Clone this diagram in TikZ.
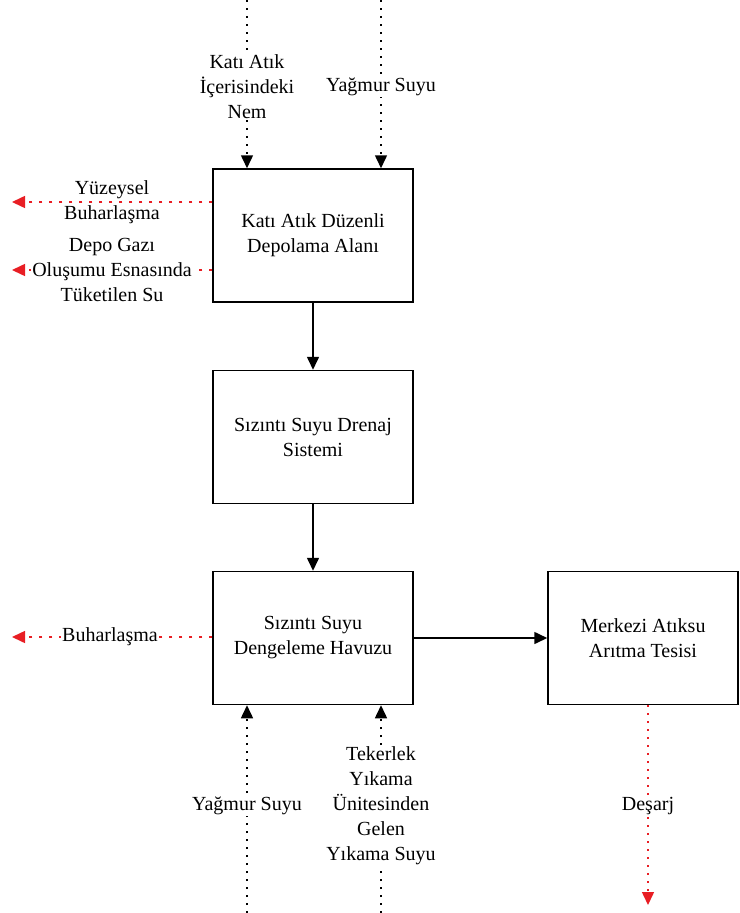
\documentclass[tikz,border=0pt]{standalone}
\usepackage{fontspec}
\setmainfont{Liberation Serif}
\usetikzlibrary{arrows.meta,calc}
\definecolor{flowred}{RGB}{232,30,36}
\tikzset{
  box/.style={draw, line width=1.5pt, minimum width=200pt, minimum height=133pt, align=center, inner sep=0pt, font=\fontsize{20}{25}\selectfont},
  solidflow/.style={line width=1.6pt, -{Triangle[length=13pt,width=12pt]}},
  inflow/.style={line width=1.5pt, dash pattern=on 2pt off 6pt, -{Triangle[length=13pt,width=12pt]}},
  outflow/.style={flowred, line width=1.5pt, dash pattern=on 3.5pt off 6.5pt, -{Triangle[length=13pt,width=12pt]}},
  lbl/.style={fill=white, align=center, inner sep=1pt, font=\fontsize{20}{25}\selectfont},
  clearlbl/.style={lbl, fill=none}
}
\begin{document}
\begin{tikzpicture}[x=1pt,y=-1pt]
\useasboundingbox (0,0) rectangle (739,913);
% boxes
\node[box] (b1) at (313,235.5) {Katı Atık Düzenli\\Depolama Alanı};
\node[box] (b2) at (313,437) {Sızıntı Suyu Drenaj\\Sistemi};
\node[box] (b3) at (313,638) {Sızıntı Suyu\\Dengeleme Havuzu};
\node[box, minimum width=190pt] (b4) at (643,638) {Merkezi Atıksu\\Arıtma Tesisi};
% main flows
\draw[solidflow] (b1) -- (b2);
\draw[solidflow] (b2) -- (b3);
\draw[solidflow] (b3) -- (b4);
% top inputs
\coordinate (t1) at (247,0);
\coordinate (t2) at (381,0);
\draw[inflow] (t1) -- (t1 |- b1.north);
\draw[inflow] (t2) -- (t2 |- b1.north);
\node[lbl] (lt1) at (247,87) {Katı Atık\\İçerisindeki\\Nem};
\node[lbl] (lt2) at (381,87) {Yağmur Suyu};
% left outputs of b1
\coordinate (o1) at (12,202);
\coordinate (o2) at (12,270);
\draw[outflow] (b1.west |- o1) -- (o1);
\draw[outflow] (b1.west |- o2) -- (o2);
\node[clearlbl] (lo1) at (112,202.5) {Yüzeysel\\Buharlaşma};
\node[lbl] (lo2) at (112,270) {Depo Gazı\\Oluşumu Esnasında\\Tüketilen Su};
% left output of b3
\coordinate (o3) at (12,637);
\draw[outflow] (b3.west |- o3) -- (o3);
\node[lbl] (lo3) at (110,637) {Buharlaşma};
% bottom inputs
\coordinate (u1) at (247,913);
\coordinate (u2) at (381,913);
\draw[inflow] (u1) -- (u1 |- b3.south);
\draw[inflow] (u2) -- (u2 |- b3.south);
\node[lbl] (lu1) at (247,806) {Yağmur Suyu};
\node[lbl] (lu2) at (381,806) {Tekerlek\\Yıkama\\Ünitesinden\\Gelen\\Yıkama Suyu};
% discharge
\coordinate (d0) at (648,705);
\coordinate (d1) at (648,905);
\draw[outflow, dash pattern=on 2pt off 6pt] (d0) -- (d1);
\node[lbl] (ld) at (648,806) {Deşarj};
\end{tikzpicture}
\end{document}
